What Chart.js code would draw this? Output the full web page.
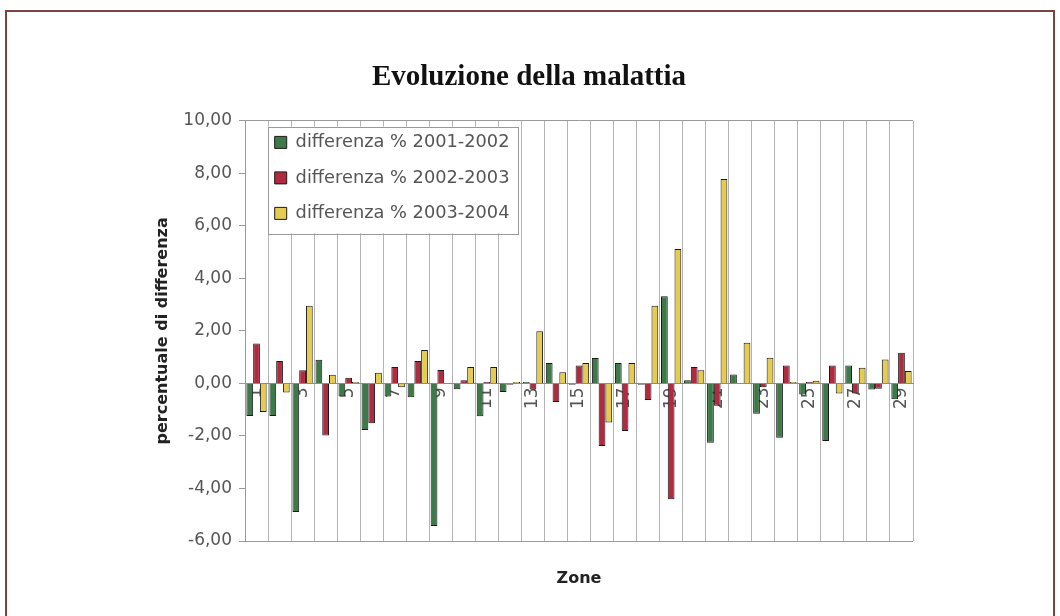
<!DOCTYPE html>
<html>
<head>
<meta charset="utf-8">
<script src="https://cdn.jsdelivr.net/npm/chart.js"></script>
<style>
  html, body { margin: 0; padding: 0; background: #fff; }
  #frame { position: absolute; left: 5px; top: 10px; width: 1046px; height: 620px; border: 2px solid #7a4444; }
  #c { position: absolute; left: 0; top: 0; }
</style>
</head>
<body>
<div id="frame"></div>
<canvas id="c" width="1060" height="616"></canvas>
<script>
// zone labels (1..29)
const zones = ['1','2','3','4','5','6','7','8','9','10','11','12','13','14','15',
               '16','17','18','19','20','21','22','23','24','25','26','27','28','29'];

const diff0102 = [-1.24, -1.24, -4.90, 0.90, -0.50, -1.77, -0.50, -0.53, -5.43, -0.22,
                  -1.25, -0.33, 0.05, 0.78, -0.05, 0.97, 0.78, -0.05, 3.32, 0.12,
                  -2.26, 0.34, -1.15, -2.07, -0.42, -2.19, 0.68, -0.23, -0.60];
const diff0203 = [1.52, 0.85, 0.50, -1.98, 0.22, -1.52, 0.63, 0.85, 0.51, 0.12,
                  0.05, -0.05, -0.23, -0.71, 0.68, -2.38, -1.81, -0.63, -4.41, 0.63,
                  -0.85, 0.02, -0.15, 0.68, 0.05, 0.68, -0.38, -0.20, 1.17];
const diff0304 = [-1.09, -0.35, 2.96, 0.33, 0.05, 0.41, -0.15, 1.27, 0.02, 0.63,
                  0.63, 0.05, 1.99, 0.43, 0.78, -1.49, 0.78, 2.96, 5.12, 0.50,
                  7.78, 1.55, 0.98, 0.05, 0.10, -0.38, 0.60, 0.91, 0.47];

const seriesLabels = ['differenza % 2001-2002', 'differenza % 2002-2003', 'differenza % 2003-2004'];
const seriesColors = ['#3d7a47', '#b02a40', '#e6cb4e'];

Chart.defaults.font.family = 'DejaVu Sans';

// legend sits inside the plot, boxed with a white background
const legendBox = {
  id: 'legendBox',
  afterLayout(chart) {
    chart.legend.left = chart.chartArea.left + 12;
    chart.legend.top = chart.chartArea.top - 5;
  },
  beforeDatasetsDraw(chart) {
    const lg = chart.legend;
    const o = lg.options.labels;
    const pad = o.padding;
    const ctx = chart.ctx;
    ctx.save();
    ctx.font = o.font.size + 'px ' + Chart.defaults.font.family;
    let maxW = 0;
    lg.legendItems.forEach(it => { maxW = Math.max(maxW, ctx.measureText(it.text).width); });
    const x0 = lg.left + pad - 7;
    const y0 = lg.top + pad - 7;
    const w = 7 + o.boxWidth + o.font.size / 2 + maxW + 8;
    const h = 7 + lg.legendItems.length * (o.font.size + pad) - pad + 11;
    ctx.fillStyle = '#fff';
    ctx.fillRect(x0, y0, w, h);
    ctx.strokeStyle = '#9a9a9a';
    ctx.lineWidth = 1;
    ctx.strokeRect(Math.round(x0) + 0.5, Math.round(y0) + 0.5, Math.round(w), Math.round(h));
    ctx.restore();
    lg.draw();
  }
};

new Chart(document.getElementById('c'), {
  type: 'bar',
  data: {
    labels: zones,
    datasets: [diff0102, diff0203, diff0304].map((d, i) => ({
      label: seriesLabels[i],
      data: d,
      backgroundColor: seriesColors[i],
      borderColor: '#1a1a1a',
      borderWidth: 1,
      categoryPercentage: 0.88,
      barPercentage: 1.0
    }))
  },
  options: {
    responsive: false,
    animation: false,
    layout: { padding: { left: 145, right: 147, top: 0, bottom: 25 } },
    plugins: {
      tooltip: { enabled: false },
      title: {
        display: true,
        text: 'Evoluzione della malattia',
        font: { family: 'Liberation Serif', size: 29, weight: 'bold' },
        color: '#111',
        padding: { top: 60, bottom: 26 }
      },
      legend: {
        position: 'chartArea',
        align: 'start',
        labels: {
          boxWidth: 12,
          boxHeight: 12,
          padding: 17.7,
          color: '#555',
          font: { size: 17.8 }
        }
      }
    },
    scales: {
      x: {
        type: 'category',
        position: { y: 0 },
        offset: true,
        grid: { color: '#b4b4b4', drawTicks: false, offset: true },
        border: { color: '#8c8c8c' },
        ticks: {
          autoSkip: false,
          minRotation: 90,
          maxRotation: 90,
          padding: 4,
          color: '#555',
          font: { size: 17 },
          callback(v, i) { return i % 2 === 0 ? this.getLabelForValue(v) : ''; }
        }
      },
      x2: {
        type: 'category',
        position: 'bottom',
        labels: zones,
        offset: true,
        grid: { display: false },
        border: { display: false },
        ticks: { display: false },
        title: {
          display: true,
          text: 'Zone',
          color: '#222',
          font: { size: 16, weight: 'bold' },
          padding: { top: 0, bottom: 3 }
        },
        afterFit(s) { s.height = 50; }
      },
      y: {
        min: -6,
        max: 10,
        ticks: {
          stepSize: 2,
          padding: 7,
          color: '#555',
          font: { size: 17 },
          callback: v => v.toFixed(2).replace('.', ',')
        },
        grid: {
          color: c => (c.tick && (c.tick.value === 10 || c.tick.value === -6)) ? '#9a9a9a' : 'rgba(0,0,0,0)',
          tickColor: '#9a9a9a',
          tickLength: 6
        },
        border: { color: '#9a9a9a' },
        title: {
          display: true,
          text: 'percentuale di differenza',
          color: '#222',
          font: { size: 16, weight: 'bold' },
          padding: { top: 8, bottom: 0 }
        },
        afterFit(s) { s.width = 100; }
      }
    }
  },
  plugins: [legendBox]
});
</script>
</body>
</html>
